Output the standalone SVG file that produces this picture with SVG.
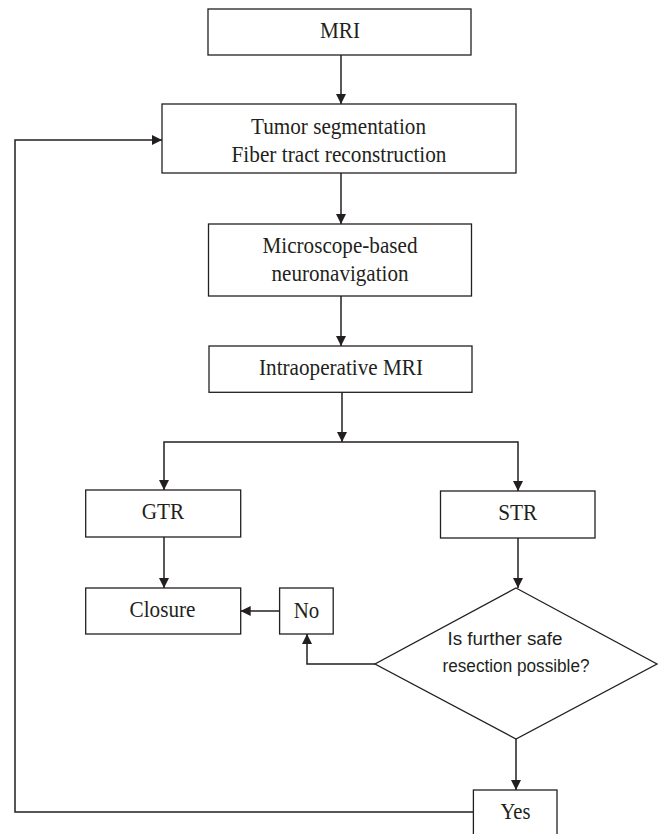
<svg xmlns="http://www.w3.org/2000/svg" width="660" height="834" viewBox="0 0 660 834">
  <style>
    .box { fill: #ffffff; stroke: #231f20; stroke-width: 1.3; }
    .conn { fill: none; stroke: #231f20; stroke-width: 1.5; }
    .serif { font-family: "Liberation Serif", "Times New Roman", serif; font-size: 22.5px; fill: #231f20; text-anchor: middle; }
    .sans { font-family: "Liberation Sans", Arial, sans-serif; font-size: 17.5px; fill: #231f20; text-anchor: middle; }
  </style>
  <defs>
    <marker id="arrow" markerUnits="userSpaceOnUse" markerWidth="10" markerHeight="10" refX="10" refY="5" orient="auto">
      <path d="M0,0 L10,5 L0,10 z" fill="#231f20"/>
    </marker>
  </defs>
  <rect width="660" height="834" fill="#ffffff"/>

  <g id="connectors">
    <path class="conn" d="M341,55 V104" marker-end="url(#arrow)"/>
    <path class="conn" d="M341,173 V224" marker-end="url(#arrow)"/>
    <path class="conn" d="M341,296 V346" marker-end="url(#arrow)"/>
    <path class="conn" d="M342,392 V442" marker-end="url(#arrow)"/>
    <path class="conn" d="M342,442 H164 V490" marker-end="url(#arrow)"/>
    <path class="conn" d="M342,442 H518 V491" marker-end="url(#arrow)"/>
    <path class="conn" d="M164,537 V588" marker-end="url(#arrow)"/>
    <path class="conn" d="M518,538 V588" marker-end="url(#arrow)"/>
    <path class="conn" d="M279.6,611 H240.7" marker-end="url(#arrow)"/>
    <path class="conn" d="M375,664 H307 V634" marker-end="url(#arrow)"/>
    <path class="conn" d="M516,739 V790" marker-end="url(#arrow)"/>
    <path class="conn" d="M473.4,812 H15 V140 H162" marker-end="url(#arrow)"/>
  </g>

  <g id="mri">
    <rect class="box" x="208" y="9" width="263" height="46"/>
    <text class="serif" x="340" y="38" textLength="40" lengthAdjust="spacingAndGlyphs">MRI</text>
  </g>
  <g id="segmentation">
    <rect class="box" x="162" y="104" width="354" height="69"/>
    <text class="serif" x="338.5" y="134.3" textLength="175" lengthAdjust="spacingAndGlyphs">Tumor segmentation</text>
    <text class="serif" x="339" y="161.7" textLength="215" lengthAdjust="spacingAndGlyphs">Fiber tract reconstruction</text>
  </g>
  <g id="neuronavigation">
    <rect class="box" x="208.5" y="224" width="263" height="72"/>
    <text class="serif" x="340" y="252.5" textLength="155" lengthAdjust="spacingAndGlyphs">Microscope-based</text>
    <text class="serif" x="340" y="280.7" textLength="137" lengthAdjust="spacingAndGlyphs">neuronavigation</text>
  </g>
  <g id="intraop-mri">
    <rect class="box" x="209" y="346" width="263" height="46.3"/>
    <text class="serif" x="341" y="374.5" textLength="164" lengthAdjust="spacingAndGlyphs">Intraoperative MRI</text>
  </g>
  <g id="gtr">
    <rect class="box" x="85.7" y="490" width="155" height="47"/>
    <text class="serif" x="163" y="519.3" textLength="42.5" lengthAdjust="spacingAndGlyphs">GTR</text>
  </g>
  <g id="str">
    <rect class="box" x="440.5" y="491" width="154.5" height="47"/>
    <text class="serif" x="517.7" y="520.3" textLength="39" lengthAdjust="spacingAndGlyphs">STR</text>
  </g>
  <g id="closure">
    <rect class="box" x="85.7" y="588" width="155" height="46"/>
    <text class="serif" x="162.5" y="617" textLength="66" lengthAdjust="spacingAndGlyphs">Closure</text>
  </g>
  <g id="no">
    <rect class="box" x="279.6" y="588" width="53.6" height="46"/>
    <text class="serif" x="306.5" y="617.5" textLength="25.5" lengthAdjust="spacingAndGlyphs">No</text>
  </g>
  <g id="decision">
    <polygon class="box" points="516,588 657,664 516,739 375,664"/>
    <text class="sans" x="505" y="645" textLength="115" lengthAdjust="spacingAndGlyphs">Is further safe</text>
    <text class="sans" x="516" y="672.3" textLength="147" lengthAdjust="spacingAndGlyphs">resection possible?</text>
  </g>
  <g id="yes">
    <rect class="box" x="473.4" y="790" width="83.6" height="60"/>
    <text class="serif" x="515.5" y="818.5" textLength="30" lengthAdjust="spacingAndGlyphs">Yes</text>
  </g>
</svg>
